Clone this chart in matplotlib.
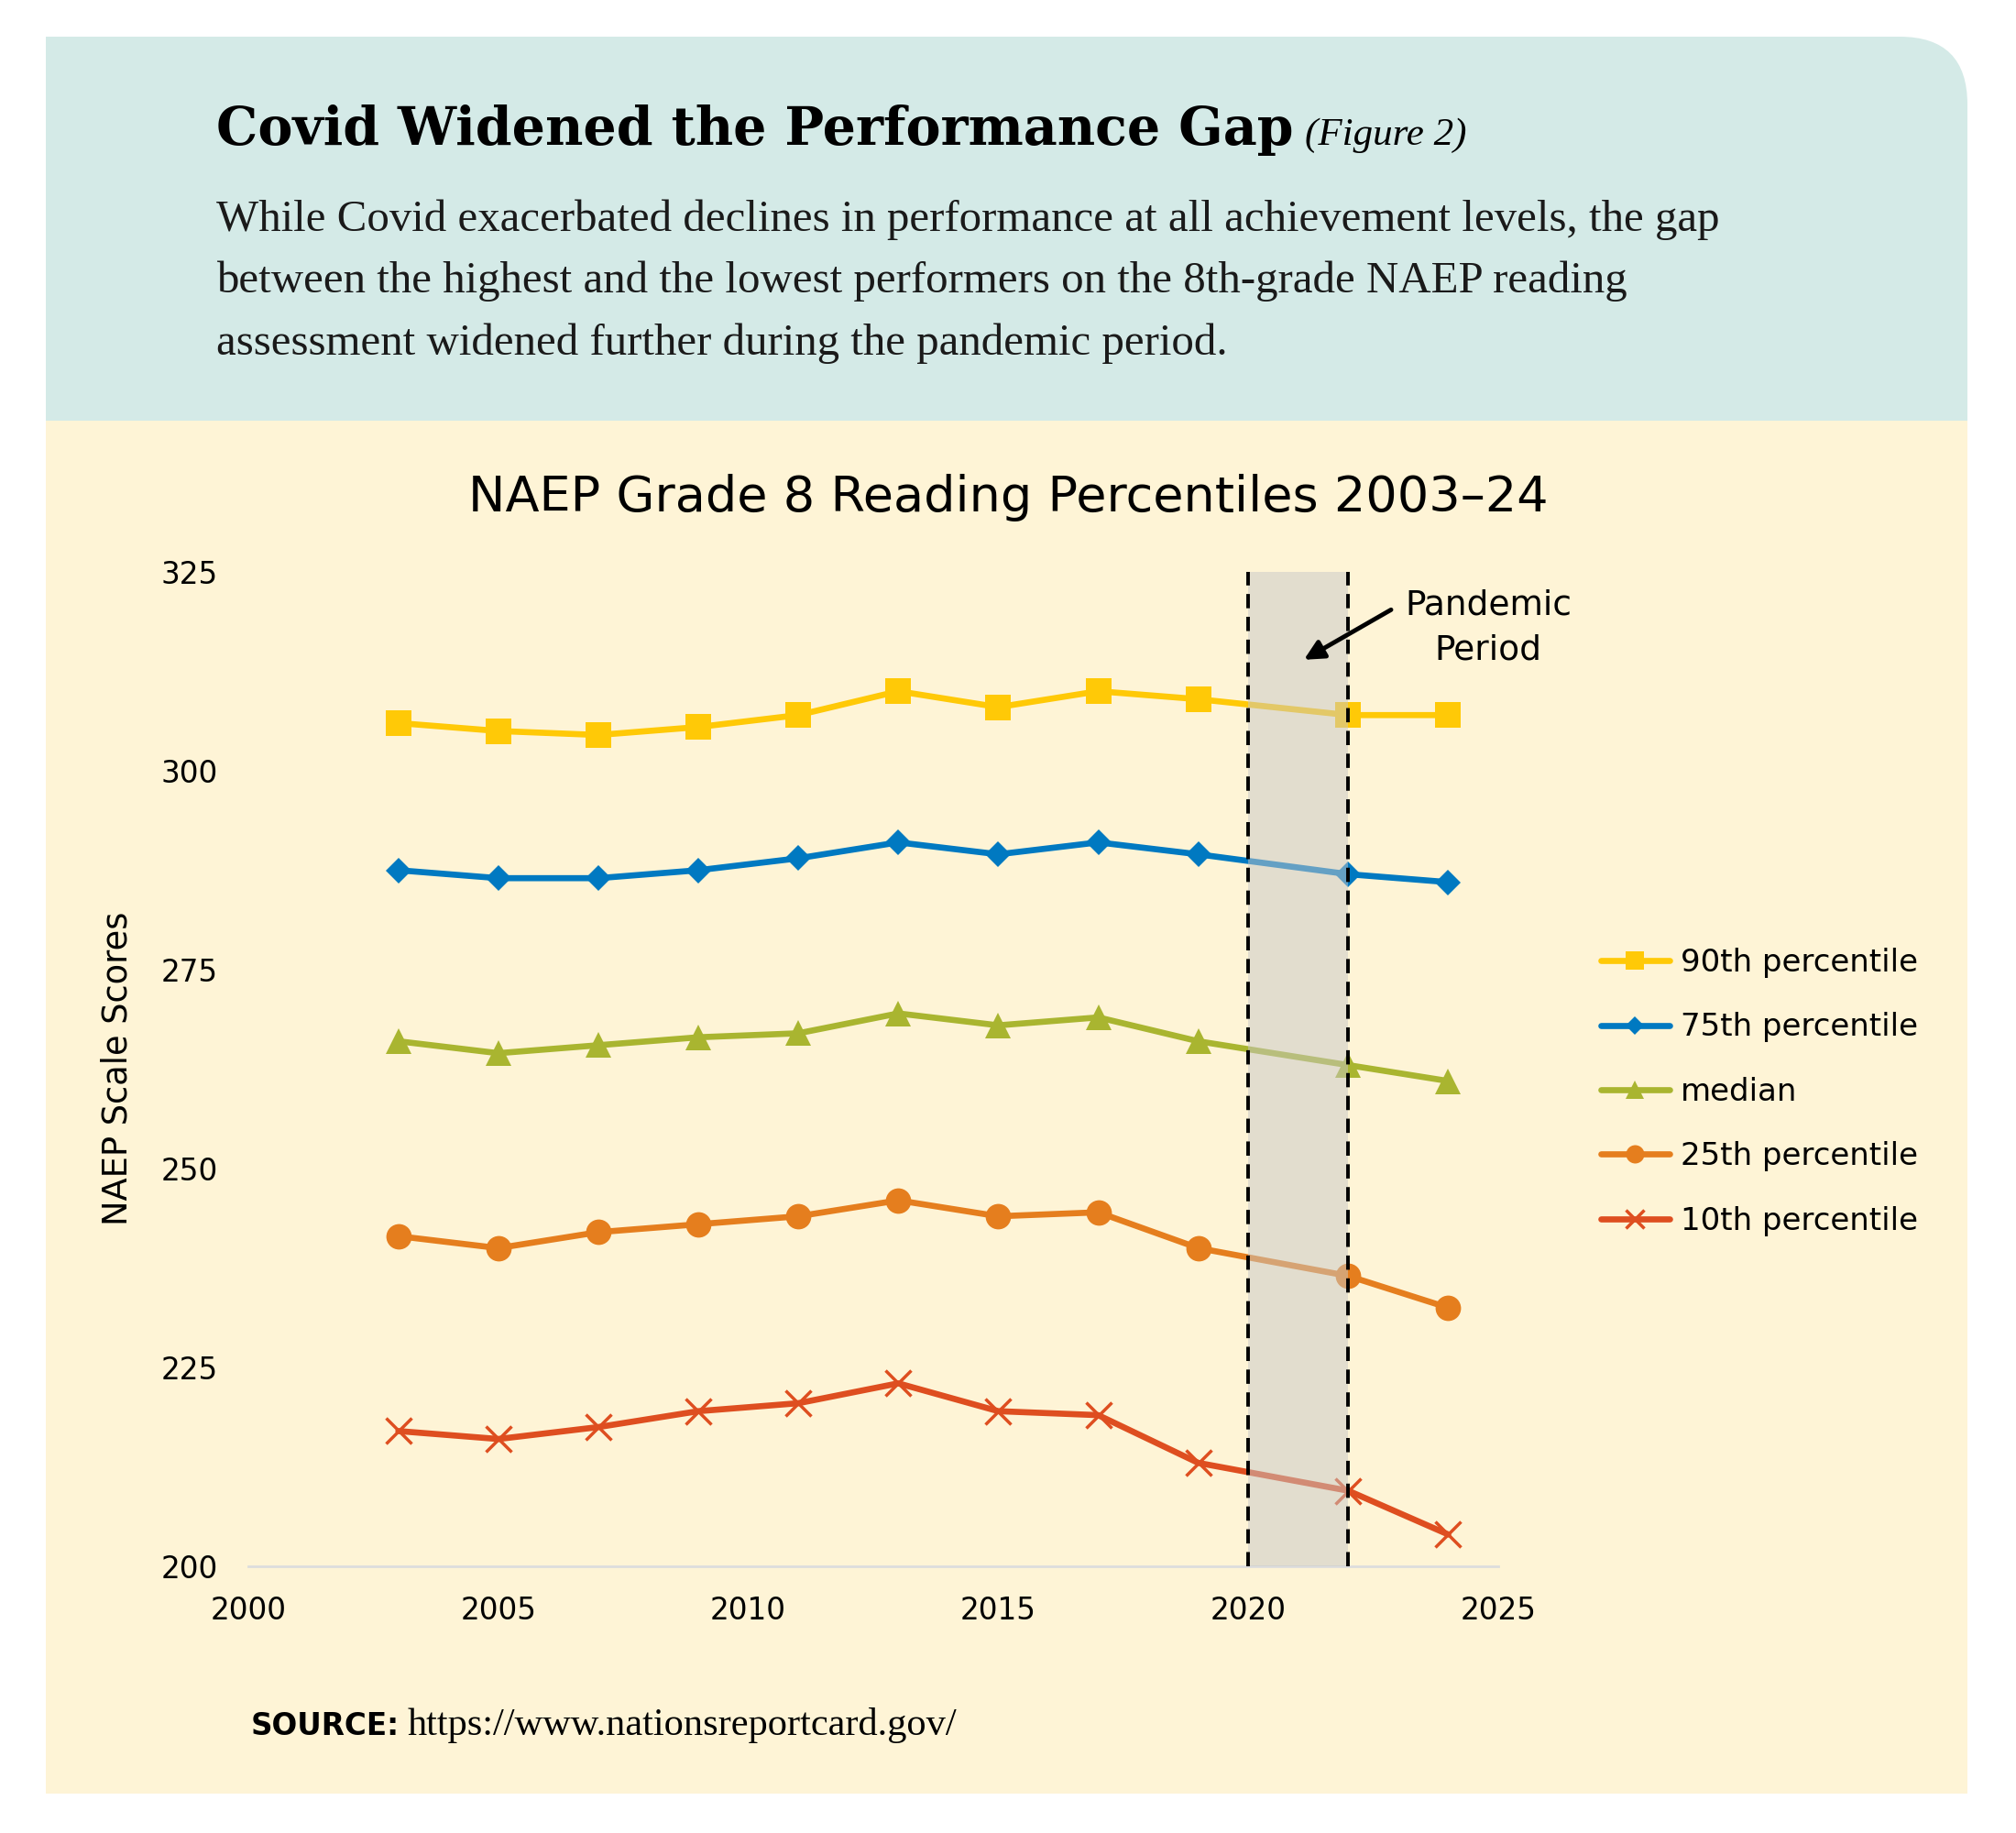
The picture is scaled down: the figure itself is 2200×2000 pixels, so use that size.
import matplotlib
matplotlib.use('Agg')
import matplotlib.pyplot as plt
from matplotlib.patches import FancyBboxPatch, Rectangle

# NAEP grade 8 reading, scale scores by percentile
years = [2003, 2005, 2007, 2009, 2011, 2013, 2015, 2017, 2019, 2022, 2024]
p90 = [306, 305, 304.5, 305.5, 307, 310, 308, 310, 309, 307, 307]
p75 = [287.5, 286.5, 286.5, 287.5, 289, 291, 289.5, 291, 289.5, 287, 286]
p50 = [266, 264.5, 265.5, 266.5, 267, 269.5, 268, 269, 266, 263, 261]
p25 = [241.5, 240, 242, 243, 244, 246, 244, 244.5, 240, 236.5, 232.5]
p10 = [217, 216, 217.5, 219.5, 220.5, 223, 219.5, 219, 213, 209.5, 204]

labels = ['90th percentile', '75th percentile', 'median', '25th percentile', '10th percentile']
colors = ['#FFC907', '#0079C1', '#A9B530', '#E57E1E', '#DE4E20']
markers = ['s', 'D', '^', 'o', 'x']
msizes = [20, 14.5, 20, 20, 20]

xticks = [2000, 2005, 2010, 2015, 2020, 2025]
yticks = [200, 225, 250, 275, 300, 325]
pandemic = (2020, 2022)

SANS = 'DejaVu Sans'
SERIF = 'Liberation Serif'

W, H = 2200, 2000
fig = plt.figure(figsize=(22, 20), dpi=100, facecolor='white')


def fx(px):
    return px / W


def fy(py):
    return 1 - py / H


# background panels (inch coordinates)
inch = fig.dpi_scale_trans
fig.add_artist(FancyBboxPatch((0.50, 14.0), 20.97, 5.60, boxstyle='round,pad=0,rounding_size=0.74',
                              transform=inch, fc='#D4EAE7', ec='none', zorder=-5))
fig.add_artist(Rectangle((0.50, 15.40), 20.0, 4.20, transform=inch, fc='#D4EAE7', ec='none', zorder=-5))
fig.add_artist(Rectangle((0.50, 0.43), 20.97, 14.98, transform=inch, fc='#FEF4D6', ec='none', zorder=-4))

# header
t_head = fig.text(fx(236), fy(158), 'Covid Widened the Performance Gap', family='DejaVu Serif',
                  fontweight='bold', fontsize=41, va='baseline')
body = ['While Covid exacerbated declines in performance at all achievement levels, the gap',
        'between the highest and the lowest performers on the 8th-grade NAEP reading',
        'assessment widened further during the pandemic period.']
for line, base in zip(body, [252, 319, 387]):
    fig.text(fx(236), fy(base), line, family=SERIF, fontsize=35.2, va='baseline', color='#1a1a1a')

fig.text(fx(1100), fy(558), 'NAEP Grade 8 Reading Percentiles 2003\u201324', family=SANS,
         fontsize=39, ha='center', va='baseline')

ax = fig.add_axes([fx(271), fy(1709), 1364 / W, 1085 / H])
ax.set_facecolor('none')

series = [p90, p75, p50, p25, p10]
for vals, lab, col, mk, ms in zip(series, labels, colors, markers, msizes):
    ax.plot(years, vals, color=col, lw=4.8, marker=mk, ms=ms, mew=2.5 if mk == 'x' else 0,
            mec=col, label=lab, zorder=3, solid_capstyle='round')

ax.axvspan(*pandemic, color='#C8C8C8', alpha=0.5, lw=0, zorder=4)
for xv in pandemic:
    ax.axvline(xv, color='black', lw=2.8, ls=(0, (4, 2.4)), zorder=5)

ax.annotate('', xy=(2021.07, 313.8), xytext=(2022.9, 320.4),
            arrowprops=dict(arrowstyle='-|>', color='black', lw=3.5, mutation_scale=32), zorder=6)
ax.text(2024.8, 318.0, 'Pandemic\nPeriod', family=SANS, fontsize=27, ha='center', va='center',
        linespacing=1.45, zorder=6)

ax.set_xlim(2000, 2025)
ax.set_ylim(200, 325)
ax.set_xticks(xticks)
ax.set_yticks(yticks)
ax.tick_params(length=0, labelsize=23.5)
ax.tick_params(axis='y', pad=24)
ax.tick_params(axis='x', pad=23)
for lbl in ax.get_xticklabels() + ax.get_yticklabels():
    lbl.set_family(SANS)
for s in ['top', 'right', 'left']:
    ax.spines[s].set_visible(False)
ax.spines['bottom'].set_color('#DDDDDD')
ax.spines['bottom'].set_linewidth(2)

fig.text(fx(128), fy(1166), 'NAEP Scale Scores', family=SANS, fontsize=26.5, rotation=90,
         ha='center', va='center')

leg = ax.legend(loc='upper left', bbox_to_anchor=(fx(1747), fy(1034)), bbox_transform=fig.transFigure,
                frameon=False, handlelength=2.2, handletextpad=0.35, markerscale=0.72,
                labelspacing=1.1, borderpad=0, borderaxespad=0, prop={'family': SANS, 'size': 24.5})
for lh in leg.get_lines():
    lh.set_solid_capstyle('round')

t_src = fig.text(fx(274), fy(1893), 'SOURCE:', family=SANS, fontweight='bold', fontsize=23.5,
                 va='baseline')

# place the trailing pieces after the measured width of the leading ones
fig.canvas.draw()
r = fig.canvas.get_renderer()
bb = t_head.get_window_extent(r)
fig.text((bb.x1 + 12) / W, fy(158), '(Figure 2)', family=SERIF, style='italic', fontsize=31,
         va='baseline')
bb = t_src.get_window_extent(r)
fig.text((bb.x1 + 8) / W, fy(1893), 'https://www.nationsreportcard.gov/', family=SERIF,
         fontsize=30.5, va='baseline')

fig.savefig('out.png', dpi=100, facecolor='white')
